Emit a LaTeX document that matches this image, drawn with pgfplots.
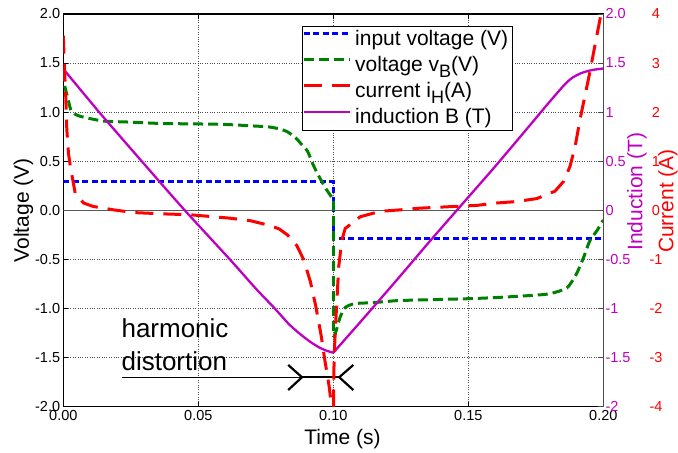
\documentclass[border=0pt]{standalone}
\usepackage{pgfplots}
\pgfplotsset{compat=1.18}
\usepackage{fontspec}
\setmainfont{Liberation Sans}

\definecolor{ind}{RGB}{192,0,192}
\definecolor{vgreen}{RGB}{0,128,0}
\newcommand{\tickfont}{\fontsize{14.5}{16}\selectfont}
\newcommand{\labfont}{\fontsize{21}{24}\selectfont}

\pgfplotsset{
  base/.style={scale only axis, width=540pt, height=392.7pt, xmin=0, xmax=0.2},
  sinput/.style={color=blue, line width=3pt, dash pattern=on 6pt off 3.5pt},
  svb/.style={color=vgreen, line width=3pt, dash pattern=on 10pt off 5pt},
  sih/.style={color=red, line width=3pt, dash pattern=on 18pt off 10pt},
  sbb/.style={color=ind, line width=2.3pt},
}

\begin{document}
\begin{tikzpicture}
% voltage axis (left)
\begin{axis}[base, name=v,
  ymin=-2, ymax=2,
  xtick={0,0.05,0.1,0.15,0.2},
  xticklabels={0.00,0.05,0.10,0.15,0.20},
  ytick={-2,-1.5,-1,-0.5,0,0.5,1,1.5,2},
  yticklabels={-2.0,-1.5,-1.0,-0.5,0.0,0.5,1.0,1.5,2.0},
  ytick pos=left,
  tick align=inside, major tick length=5pt,
  tick style={black, line width=0.8pt},
  grid=major, grid style={dotted, line width=0.9pt, black!70},
  axis line style={line width=1.2pt},
  xticklabel style={font=\tickfont, inner sep=0pt, yshift=-3.5pt},
  yticklabel style={font=\tickfont, inner sep=0pt, xshift=-3pt},
  xlabel={Time (s)},
  xlabel style={font=\labfont, at={(axis description cs:0.517,-0.083)}, anchor=center},
  ylabel={Voltage (V)},
  ylabel style={font=\labfont, at={(axis description cs:-0.074,0.5)}, anchor=center},
]
\addplot[forget plot, color=black!65, line width=1.5pt] coordinates {(0,0) (0.2,0)};
\addplot[sinput] coordinates {(0,0.29) (0.1,0.29) (0.1,-0.29) (0.2,-0.29)};
\addplot[svb, smooth, tension=0.4] coordinates {
 (0,1.42) (0.0006,1.26) (0.0018,1.13) (0.003,1.01) (0.006,0.96) (0.0147,0.91)
 (0.0235,0.90) (0.036,0.885) (0.05,0.88) (0.06,0.875) (0.07,0.86) (0.076,0.85)
 (0.08,0.83) (0.083,0.80) (0.086,0.74) (0.088,0.68) (0.0905,0.60) (0.0926,0.46)
 (0.095,0.33) (0.0975,0.21) (0.0995,0.13) (0.1,0.1)};
\addplot[svb, forget plot] coordinates {(0.1,0.1) (0.1,-1.28)};
\addplot[svb, forget plot, smooth, tension=0.4] coordinates {
 (0.1,-1.28) (0.1007,-1.26)
 (0.1025,-1.09) (0.1044,-0.99) (0.108,-0.95) (0.115,-0.94) (0.1235,-0.92)
 (0.136,-0.91) (0.150,-0.90) (0.159,-0.89) (0.1717,-0.87) (0.180,-0.85)
 (0.1865,-0.79) (0.190,-0.65) (0.1927,-0.48) (0.195,-0.31) (0.1977,-0.205)
 (0.1995,-0.12) (0.2,-0.1)};
% harmonic distortion marker
\node[font=\fontsize{26}{30}\selectfont, anchor=base west, inner sep=0pt] at (axis cs:0.0215,-1.297) {harmonic};
\node[font=\fontsize{26}{30}\selectfont, anchor=base west, inner sep=0pt] at (axis cs:0.0215,-1.636) {distortion};
\draw[line width=1pt] (axis cs:0.0216,-1.70) -- (axis cs:0.0884,-1.70);
\draw[line width=2.2pt] (axis cs:0.0884,-1.70) -- (axis cs:0.1022,-1.70);
\draw[line width=2.2pt] (axis cs:0.0833,-1.575) -- (axis cs:0.0884,-1.70) -- (axis cs:0.0833,-1.83);
\draw[line width=2.2pt] (axis cs:0.1074,-1.575) -- (axis cs:0.1022,-1.70) -- (axis cs:0.1074,-1.83);
\end{axis}

% induction axis (right, inner)
\begin{axis}[base,
  ymin=-2, ymax=2,
  axis x line=none, axis y line*=right,
  y axis line style={line width=1.5pt, black!70},
  ytick={-2,-1.5,-1,-0.5,0,0.5,1,1.5,2},
  yticklabels={-2,-1.5,-1,-0.5,0,0.5,1,1.5,2.0},
  tick align=inside, major tick length=5pt,
  tick style={black!70, line width=0.8pt},
  yticklabel style={font=\tickfont, color=ind, inner sep=0pt, anchor=west, xshift=2pt},
  ylabel={Induction (T)},
  ylabel style={font=\labfont, color=ind, at={(axis description cs:1.0624,0.547)}, anchor=center},
]
\addplot[sbb, smooth, tension=0.4] coordinates {
 (0,1.44) (0.0136,0.99) (0.03,0.47) (0.045,0.0) (0.0617,-0.5) (0.0714,-0.80)
 (0.078,-0.99) (0.0836,-1.16) (0.0877,-1.26) (0.0915,-1.34) (0.095,-1.40)
 (0.0975,-1.43) (0.1,-1.45)};
\addplot[sbb, smooth, tension=0.4] coordinates {
 (0.1,-1.45) (0.1112,-1.10) (0.1235,-0.71) (0.1359,-0.31)
 (0.147,0.04) (0.1594,0.43) (0.1717,0.83) (0.179,1.07) (0.1853,1.27)
 (0.1885,1.35) (0.192,1.40) (0.196,1.43) (0.2,1.445)};
\end{axis}

% current axis (right, outer)
\begin{axis}[base,
  ymin=-4, ymax=4,
  axis x line=none, axis y line*=right,
  axis line style={draw=none},
  ytick={-4,-3,-2,-1,0,1,2,3,4},
  yticklabels={-4,-3,-2,-1,0,1,2,3,4},
  major tick length=0pt,
  yticklabel style={font=\tickfont, color=red, anchor=center, xshift=52.7pt},
  ylabel={Current (A)},
  ylabel style={font=\labfont, color=red, at={(axis description cs:1.1198,0.524)}, anchor=center},
  legend image code/.code={\path (0pt,0pt); \draw[#1] (0pt,5.5pt) -- (46pt,5.5pt);},
  legend cell align=left,
  legend style={at={(axis description cs:0.442,0.9695)}, anchor=north west,
    draw=black, fill=white, font=\labfont,
    inner xsep=0pt, inner ysep=0pt, column sep=0pt, row sep=0pt,
    nodes={inner xsep=4pt, inner ysep=2pt, text height=17pt, text depth=5pt}},
]
\addlegendimage{sinput}
\addlegendentry{input voltage (V)}
\addlegendimage{svb}
\addlegendentry{voltage v\raisebox{-0.3em}{\fontsize{18}{18}\selectfont B}(V)}
\addplot[sih] coordinates {
 (0,3.56) (0.0005,2.8) (0.0009,2.33) (0.0013,1.65) (0.0019,1.17) (0.0026,0.90)
 (0.0044,0.35) (0.0075,0.15) (0.011,0.08) (0.0186,0.01) (0.026,-0.045)
 (0.036,-0.07) (0.047,-0.09) (0.0618,-0.16) (0.0692,-0.21) (0.0766,-0.31)
 (0.080,-0.38) (0.083,-0.50) (0.0865,-0.72) (0.089,-1.0) (0.0915,-1.45)
 (0.0935,-1.95) (0.0955,-2.55) (0.097,-3.1) (0.0985,-3.6) (0.0998,-4.2)
 (0.1,-4.3) (0.1003,-3.0) (0.1008,-2.38) (0.1014,-1.77) (0.102,-1.15)
 (0.1032,-0.6) (0.1044,-0.37) (0.11,-0.13) (0.1174,-0.02) (0.1248,0.01)
 (0.1322,0.045) (0.1396,0.065) (0.147,0.085) (0.153,0.1) (0.1606,0.15)
 (0.168,0.18) (0.1754,0.24) (0.1821,0.39) (0.1853,0.59) (0.1877,0.9)
 (0.1896,1.31) (0.1914,1.86) (0.1932,2.33) (0.195,2.81) (0.1969,3.36)
 (0.1988,3.9) (0.2,4.2)};
\addlegendentry{current i\raisebox{-0.3em}{\fontsize{18}{18}\selectfont H}(A)}
\addlegendimage{sbb}
\addlegendentry{induction B (T)}
\end{axis}

\pgfresetboundingbox
\useasboundingbox ([shift={(-63.3pt,-46.3pt)}]v.south west) rectangle ([shift={(74.7pt,14pt)}]v.north east);
\end{tikzpicture}
\end{document}
